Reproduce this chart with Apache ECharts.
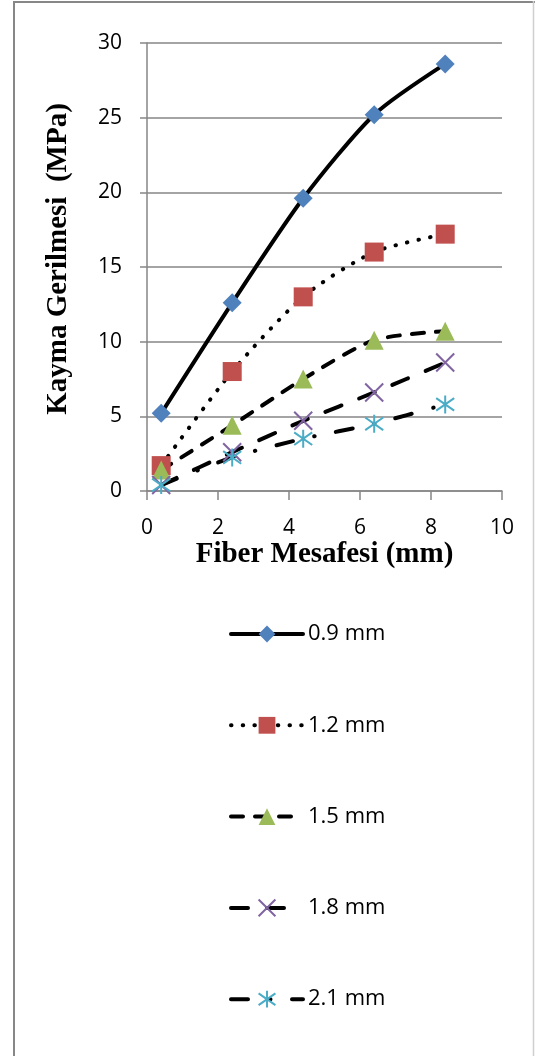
<!DOCTYPE html>
<html>
<head>
<meta charset="utf-8">
<script src="https://cdn.jsdelivr.net/npm/echarts@6/dist/echarts.min.js"></script>
<style>
  html, body { margin: 0; padding: 0; background: #ffffff; }
  #chart { width: 535px; height: 1056px; }
</style>
</head>
<body>
<div id="chart"></div>
<script>
// Fiber spacing (mm) on the horizontal axis
const fiberSpacing = [0.4, 2.4, 4.4, 6.4, 8.4];

// Series names (fiber diameter)
const seriesNames = ['0.9 mm', '1.2 mm', '1.5 mm', '1.8 mm', '2.1 mm'];

// Shear stress (MPa) for each fiber diameter
const stress09 = [5.2, 12.6, 19.6, 25.2, 28.6];
const stress12 = [1.7, 8.0, 13.0, 16.0, 17.2];
const stress15 = [1.4, 4.4, 7.5, 10.1, 10.7];
const stress18 = [0.4, 2.6, 4.7, 6.6, 8.6];
const stress21 = [0.4, 2.25, 3.5, 4.5, 5.8];

// Axis ranges: [min, max, step]
const xTicks = [0, 10, 2];
const yTicks = [0, 30, 5];

const xTitle = 'Fiber Mesafesi (mm)';
const yTitle = 'Kayma Gerilmesi  (MPa)';

const stressSets = [stress09, stress12, stress15, stress18, stress21];

// Marker shapes: diamond, square, triangle, cross, star
const markerX = 'path://M0,0L20,20M20,0L0,20';
const markerStar = 'path://M10,0L10,20M1,3L19,17M19,3L1,17';

const seriesLook = [
  { symbol: 'diamond', size: 19, color: '#4F81BD', dash: 'solid' },
  { symbol: 'rect', size: 19, color: '#C0504D', dash: [0.5, 11.2] },
  { symbol: 'triangle', size: 19, color: '#9BBB59', dash: [12, 12] },
  { symbol: markerX, size: 18, color: '#8064A2', dash: [17, 19], stroke: 2 },
  { symbol: markerStar, size: 18, color: '#4BACC6', dash: [17, 22, 0.5, 21.5], stroke: 2 }
];

const series = seriesNames.map(function (name, i) {
  const look = seriesLook[i];
  return {
    name: name,
    type: 'line',
    data: fiberSpacing.map(function (x, j) { return [x, stressSets[i][j]]; }),
    smooth: 0.25,
    symbol: look.symbol,
    symbolSize: look.size,
    itemStyle: {
      color: look.color,
      borderColor: look.color,
      borderWidth: look.stroke || 0
    },
    lineStyle: { color: '#000000', width: 4, type: look.dash, cap: 'round' },
    emphasis: { disabled: true }
  };
});

const gridColor = '#868686';
const chart = echarts.init(document.getElementById('chart'), null, { renderer: 'canvas' });

chart.setOption({
  animation: false,
  backgroundColor: '#ffffff',
  grid: { left: 147, top: 43, width: 355, height: 448, outerBoundsMode: 'none', containLabel: false },
  xAxis: {
    type: 'value',
    min: xTicks[0], max: xTicks[1], interval: xTicks[2],
    name: xTitle,
    nameLocation: 'middle',
    nameGap: 41,
    nameTextStyle: { fontFamily: 'Liberation Serif', fontWeight: 'bold', fontSize: 29, color: '#000' },
    axisLine: { show: true, lineStyle: { color: gridColor, width: 1.5 } },
    axisTick: { show: true, length: 9, inside: false, lineStyle: { color: gridColor, width: 1.5 } },
    axisLabel: { margin: 27, fontFamily: 'Open Sans', fontSize: 21, color: '#000' },
    splitLine: { show: false }
  },
  yAxis: {
    type: 'value',
    min: yTicks[0], max: yTicks[1], interval: yTicks[2],
    name: yTitle,
    nameLocation: 'middle',
    nameGap: 74,
    nameTextStyle: { fontFamily: 'Liberation Serif', fontWeight: 'bold', fontSize: 29, color: '#000', padding: [0, 0, 0, 16] },
    axisLine: { show: true, lineStyle: { color: gridColor, width: 1.5 } },
    axisTick: { show: true, length: 7, inside: false, lineStyle: { color: gridColor, width: 1.5 } },
    axisLabel: { margin: 25, fontFamily: 'Open Sans', fontSize: 21, color: '#000' },
    splitLine: { show: true, lineStyle: { color: gridColor, width: 1.5 } }
  },
  legend: {
    orient: 'vertical',
    left: 229,
    top: 623,
    padding: 0,
    itemWidth: 72,
    itemHeight: 21,
    itemGap: 69.3,
    selectedMode: false,
    lineStyle: { width: 4 },
    textStyle: { fontFamily: 'Open Sans', fontSize: 22, color: '#000' },
    data: seriesNames
  },
  graphic: [
    { type: 'line', silent: true, shape: { x1: 14, y1: 2, x2: 535, y2: 2 }, style: { stroke: '#878787', lineWidth: 2 } },
    { type: 'line', silent: true, shape: { x1: 14, y1: 1, x2: 14, y2: 1056 }, style: { stroke: '#878787', lineWidth: 2 } },
    { type: 'line', silent: true, shape: { x1: 533.5, y1: 1, x2: 533.5, y2: 1056 }, style: { stroke: '#cfcfcf', lineWidth: 1.5 } }
  ],
  series: series
});
</script>
</body>
</html>
